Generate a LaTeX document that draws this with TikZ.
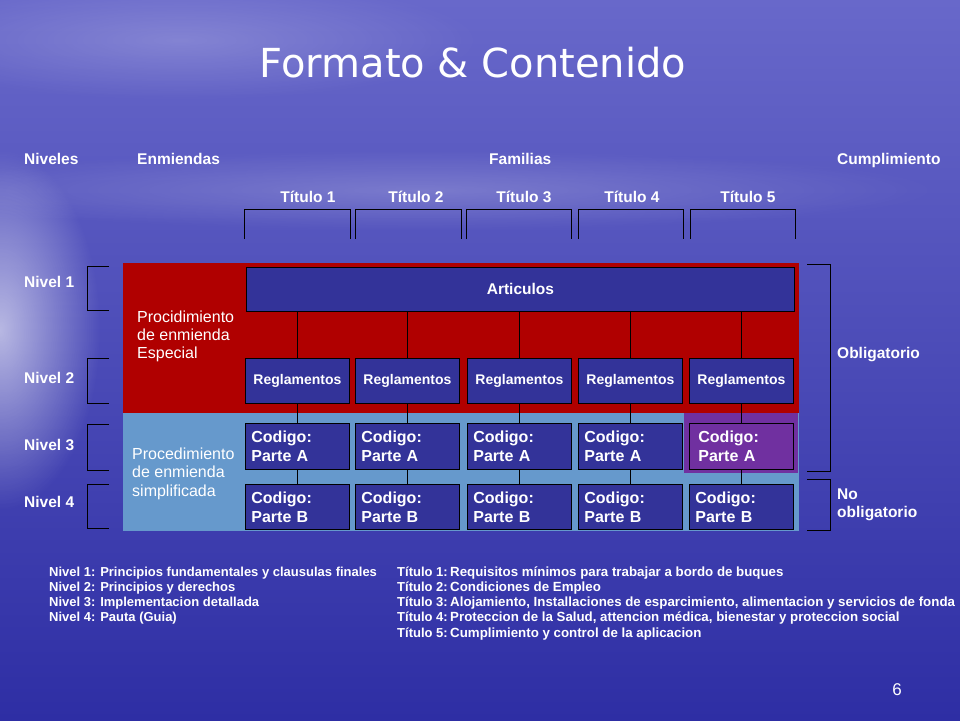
\documentclass[tikz,border=0pt]{standalone}
\usepackage{fontspec}
\setmainfont{Liberation Sans}
\newfontfamily\titlefont{DejaVu Sans}
\usetikzlibrary{fadings}
\definecolor{bgtop}{RGB}{104,104,202}
\definecolor{bgmid}{RGB}{68,68,186}
\definecolor{bgbot}{RGB}{46,46,164}
\definecolor{boxblue}{RGB}{51,51,153}
\definecolor{redbg}{RGB}{176,0,0}
\definecolor{lightbg}{RGB}{102,153,204}
\definecolor{purplebg}{RGB}{112,48,160}
\tikzfading[name=glow, inner color=transparent!0, outer color=transparent!100]
\tikzset{
  lbl/.style={text=white, inner sep=0pt, anchor=base west, font=\bfseries\fontsize{15.5}{18}\selectfont},
  box/.style={draw=black, fill=boxblue, line width=0.8pt, text=white, inner sep=0pt, anchor=north west},
  reg/.style={box, minimum width=104pt, minimum height=45pt, font=\bfseries\fontsize{14}{16}\selectfont},
  cod/.style={box, align=left, text width=92pt, inner xsep=6pt, inner ysep=0pt, minimum height=46pt, font=\bfseries\fontsize{16}{19}\selectfont},
  proc/.style={text=white, align=left, anchor=base west, inner sep=0pt, font=\fontsize{16}{18}\selectfont},
  brk/.style={draw=black, line width=0.8pt},
  leg/.style={text=white, inner sep=0pt, anchor=base west, font=\bfseries\fontsize{13}{15}\selectfont},
}

\begin{document}
\begin{tikzpicture}[x=1pt, y=-1pt]
        \useasboundingbox (0,0) rectangle (960,720);
        % fondo
        \shade[top color=bgtop, middle color=bgmid, bottom color=bgbot] (0,0) rectangle (960,720);
        \fill[white, opacity=0.6, path fading=glow] (0,330) ellipse (100 and 180);
        \fill[white, opacity=0.2, path fading=glow] (420,190) ellipse (520 and 40);
        \fill[white, opacity=0.2, path fading=glow] (180,40) ellipse (300 and 60);

        \node[font=\titlefont\fontsize{40}{48}\selectfont, text=white, anchor=base] (titulo) at (473,77) {Formato \& Contenido};

        \node[lbl] (niveles) at (24,164) {Niveles};
        \node[lbl] (enmiendas) at (137,164) {Enmiendas};
        \node[lbl] (familias) at (489,164) {Familias};
        \node[lbl] (cumpl) at (837,164) {Cumplimiento};

        \foreach \i/\x in {1/308,2/416,3/524,4/632,5/748}
            \node[lbl, anchor=base] (tit\i) at (\x,202) {Título \i};
        \foreach \a/\b in {244/350,355/461,466/571,578/683,690/795}
            \draw[brk] (\a,239) -- (\a,209) -- (\b,209) -- (\b,239);

        \fill[redbg] (123,263) rectangle (799,413);
        \fill[lightbg] (123,413) rectangle (799,531);
        \fill[purplebg] (684,413) rectangle (798,473);

        \node[proc] (especial) at (137,358) {Procidimiento\\de enmienda\\Especial};
        \node[proc, font=\fontsize{16}{18.5}\selectfont] (simplif) at (132,496) {Procedimiento\\de enmienda\\simplificada};

        \node[box, minimum width=548pt, minimum height=44pt, font=\bfseries\fontsize{15.5}{18}\selectfont] (art) at (246,267) {Articulos};

        \foreach \i/\l in {1/245,2/355,3/467,4/578,5/689} {
            \ifnum\i=5 \def\cf{purplebg}\def\cx{9pt}\else \def\cf{boxblue}\def\cx{6pt}\fi
            \node[reg] (reg\i) at (\l,358) {Reglamentos};
            \node[cod, fill=\cf, inner xsep=\cx, text width=104pt-2*\cx] (coda\i) at (\l,423) {Codigo:\\Parte A};
            \node[cod, minimum height=45pt] (codb\i) at (\l,484) {Codigo:\\Parte B};
            \draw (art.south -| reg\i.north) -- (reg\i.north);
            \draw (reg\i.south) -- (coda\i.north);
            \draw (coda\i.south) -- (codb\i.north);
        }

        \foreach \i/\a/\b/\y in {1/266/310/287, 2/358/403/383, 3/424/470/450, 4/484/528/507} {
            \draw[brk] (109,\a) -- (87,\a) -- (87,\b) -- (109,\b);
            \node[lbl] (niv\i) at (24,\y) {Nivel \i};
        }

        \draw[brk] (807,264) -- (830,264) -- (830,471) -- (807,471);
        \draw[brk] (807,479) -- (830,479) -- (830,530) -- (807,530);
        \node[lbl] (oblig) at (837,358) {Obligatorio};
        \node[lbl, align=left] (nooblig) at (837,517) {No\\obligatorio};

        % leyenda
        \foreach \i/\txt in {1/{Principios fundamentales y clausulas finales}, 2/{Principios y derechos}, 3/{Implementacion detallada}, 4/{Pauta (Guia)}}
            \node[leg] (leyn\i) at (49,{576+15.3*(\i-1)}) {Nivel \i: \txt};
        \foreach \i/\txt in {1/{Requisitos mínimos para trabajar a bordo de buques}, 2/{Condiciones de Empleo}, 3/{Alojamiento, Installaciones de esparcimiento, alimentacion y servicios de fonda}, 4/{Proteccion de la Salud, attencion médica, bienestar y proteccion social}, 5/{Cumplimiento y control de la aplicacion}} {
            \node[leg] (leyt\i) at (397,{576+15.3*(\i-1)}) {Título \i:};
            \node[leg, font=\bfseries\fontsize{13.3}{15}\selectfont] (leyd\i) at (450,{576+15.3*(\i-1)}) {\txt};
        }

        \node[text=white, font=\fontsize{17}{20}\selectfont, anchor=base] (pag) at (897,695) {6};
\end{tikzpicture}
\end{document}
